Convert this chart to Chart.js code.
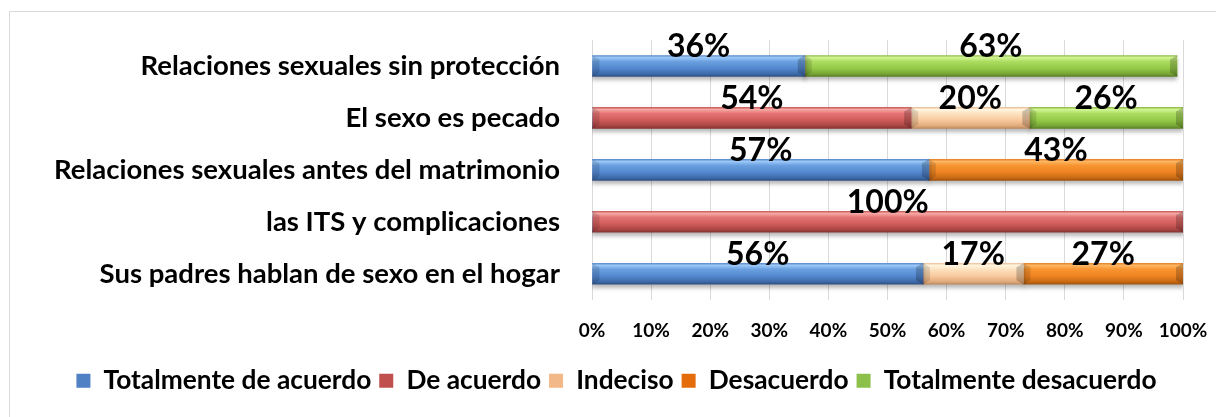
<!DOCTYPE html>
<html>
<head>
<meta charset="utf-8">
<script src="https://cdn.jsdelivr.net/npm/chart.js@4"></script>
<style>
html, body { margin: 0; padding: 0; background: #fff; }
#wrap { width: 1216px; height: 417px; }
</style>
</head>
<body>
<div id="wrap"><canvas id="opinionChart"></canvas></div>
<script>
// survey answers, percent per statement
var categories = [
    "Relaciones sexuales sin protección",
    "El sexo es pecado",
    "Relaciones sexuales antes del matrimonio",
    "las ITS y complicaciones",
    "Sus padres hablan de sexo en el hogar"
];
var seriesNames = ["Totalmente de acuerdo", "De acuerdo", "Indeciso", "Desacuerdo", "Totalmente desacuerdo"];
var totalmenteAcuerdo = [36, 0, 57, 0, 56];
var deAcuerdo = [0, 54, 0, 100, 0];
var indeciso = [0, 20, 0, 0, 17];
var desacuerdo = [0, 0, 43, 0, 27];
var totalmenteDesacuerdo = [63, 26, 0, 0, 0];
var legendColors = ['#4f81c4', '#c0504d', '#f2b887', '#e46c0a', '#8cc04a'];

var FONT = "Lato";

// bevelled look: light band on top, darker towards the bottom
function bevel(flat, stops) {
    return function (c) {
        if (c.type !== 'data' || !c.chart.scales.y) return flat;
        var chart = c.chart;
        var y = chart.scales.y.getPixelForValue(c.dataIndex);
        if (!isFinite(y)) return flat;
        var g = chart.ctx.createLinearGradient(0, y - 11, 0, y + 11);
        stops.forEach(function (s) { g.addColorStop(s[0], s[1]); });
        return g;
    };
}

var blue = bevel('#5287cc', [[0, '#4d7fc2'], [0.12, '#9cc8f7'], [0.3, '#6aa0e0'], [0.6, '#5489d0'], [0.85, '#3f6cab'], [1, '#2c4d7e']]);
var red = bevel('#c9504d', [[0, '#c0504d'], [0.12, '#f6a8a5'], [0.3, '#e47474'], [0.6, '#d05c5a'], [0.85, '#aa4644'], [1, '#7e302e']]);
var beige = bevel('#f3c194', [[0, '#e8b68a'], [0.12, '#fff6e0'], [0.3, '#fde2c0'], [0.6, '#f8c99e'], [0.85, '#e2ac7d'], [1, '#b88559']]);
var orange = bevel('#e46c0a', [[0, '#e07a1a'], [0.12, '#fdb664'], [0.3, '#f89530'], [0.6, '#ee8322'], [0.85, '#cb6c14'], [1, '#9a500c']]);
var green = bevel('#8dc04a', [[0, '#86b33c'], [0.12, '#d2f595'], [0.3, '#acdc60'], [0.6, '#95ca48'], [0.85, '#78a736'], [1, '#557a24']]);

var frame = {
    id: 'frame',
    beforeDraw: function (chart) {
        var ctx = chart.ctx;
        ctx.save();
        ctx.fillStyle = '#fff';
        ctx.fillRect(0, 0, chart.width, chart.height);
        ctx.strokeStyle = '#d9d9d9';
        ctx.lineWidth = 1;
        ctx.beginPath();
        ctx.moveTo(9.5, chart.height);
        ctx.lineTo(9.5, 11.5);
        ctx.lineTo(chart.width, 11.5);
        ctx.stroke();
        ctx.restore();
    }
};

// soft shadow under the bars
var barShadow = {
    id: 'barShadow',
    beforeDatasetsDraw: function (chart) {
        var ctx = chart.ctx;
        ctx.save();
        ctx.shadowColor = 'rgba(0,0,0,0.28)';
        ctx.shadowBlur = 4;
        ctx.shadowOffsetY = 3;
    },
    afterDatasetsDraw: function (chart) {
        chart.ctx.restore();
    }
};

// shaded facets at the ends of every segment, then the value labels
var valueLabels = {
    id: 'valueLabels',
    afterDatasetsDraw: function (chart) {
        var ctx = chart.ctx;
        ctx.save();
        chart.data.datasets.forEach(function (ds, i) {
            chart.getDatasetMeta(i).data.forEach(function (bar, j) {
                if (!ds.data[j]) return;
                var t = bar.y - bar.height / 2, b = bar.y + bar.height / 2;
                ctx.fillStyle = 'rgba(0,0,0,0.2)';
                ctx.beginPath();
                ctx.moveTo(bar.x, t);
                ctx.lineTo(bar.x, b);
                ctx.lineTo(bar.x - 7, b - 4);
                ctx.lineTo(bar.x - 7, t + 4);
                ctx.closePath();
                ctx.fill();
                ctx.fillStyle = 'rgba(0,0,0,0.12)';
                ctx.beginPath();
                ctx.moveTo(bar.base, t);
                ctx.lineTo(bar.base + 7, t + 4);
                ctx.lineTo(bar.base + 7, b - 4);
                ctx.lineTo(bar.base, b);
                ctx.closePath();
                ctx.fill();
            });
        });
        ctx.font = 'bold 32px ' + FONT;
        ctx.fillStyle = '#000';
        ctx.textAlign = 'center';
        ctx.textBaseline = 'alphabetic';
        chart.data.datasets.forEach(function (ds, i) {
            chart.getDatasetMeta(i).data.forEach(function (bar, j) {
                var v = ds.data[j];
                if (!v) return;
                ctx.fillText(Math.round(v) + '%', (bar.x + bar.base) / 2, bar.y - bar.height / 2 + 2);
            });
        });
        ctx.restore();
    }
};

var ctx = document.getElementById("opinionChart");
var opinionChart = new Chart(ctx, {
    type: 'bar',
    data: {
        labels: categories,
        datasets: [
            { label: seriesNames[0], data: totalmenteAcuerdo, backgroundColor: blue },
            { label: seriesNames[1], data: deAcuerdo, backgroundColor: red },
            { label: seriesNames[2], data: indeciso, backgroundColor: beige },
            { label: seriesNames[3], data: desacuerdo, backgroundColor: orange },
            { label: seriesNames[4], data: totalmenteDesacuerdo, backgroundColor: green }
        ]
    },
    options: {
        indexAxis: 'y',
        responsive: true,
        maintainAspectRatio: false,
        animation: false,
        datasets: { bar: { barThickness: 21, borderWidth: 0 } },
        layout: { padding: { top: 40, right: 33, bottom: 13, left: 50 } },
        scales: {
            x: {
                stacked: true,
                min: 0,
                max: 100,
                ticks: {
                    stepSize: 10,
                    padding: 20,
                    color: '#000',
                    font: { family: FONT, size: 19, weight: 'bold' },
                    callback: function (v) { return v + '%'; }
                },
                grid: { color: '#d9d9d9', drawTicks: false },
                border: { display: false },
                afterFit: function (s) {
                    s.height = 60;
                    s.paddingLeft = 0;
                    s.paddingRight = 0;
                }
            },
            y: {
                stacked: true,
                ticks: {
                    padding: 32,
                    color: '#000',
                    font: { family: FONT, size: 27.5, weight: 'bold' }
                },
                grid: { display: false, drawTicks: false },
                border: { display: true, color: '#d9d9d9' },
                afterFit: function (s) {
                    s.width = 542;
                    s.paddingTop = 0;
                    s.paddingBottom = 0;
                }
            }
        },
        plugins: {
            legend: {
                position: 'bottom',
                labels: {
                    boxWidth: 14,
                    boxHeight: 14,
                    padding: 8,
                    color: '#000',
                    font: { family: FONT, size: 26.3, weight: 'bold' },
                    generateLabels: function (chart) {
                        var items = Chart.defaults.plugins.legend.labels.generateLabels(chart);
                        items.forEach(function (it, i) {
                            it.fillStyle = legendColors[i];
                            it.strokeStyle = legendColors[i];
                            it.lineWidth = 0;
                        });
                        return items;
                    }
                }
            },
            tooltip: { enabled: false }
        }
    },
    plugins: [frame, barShadow, valueLabels]
});
</script>
</body>
</html>
